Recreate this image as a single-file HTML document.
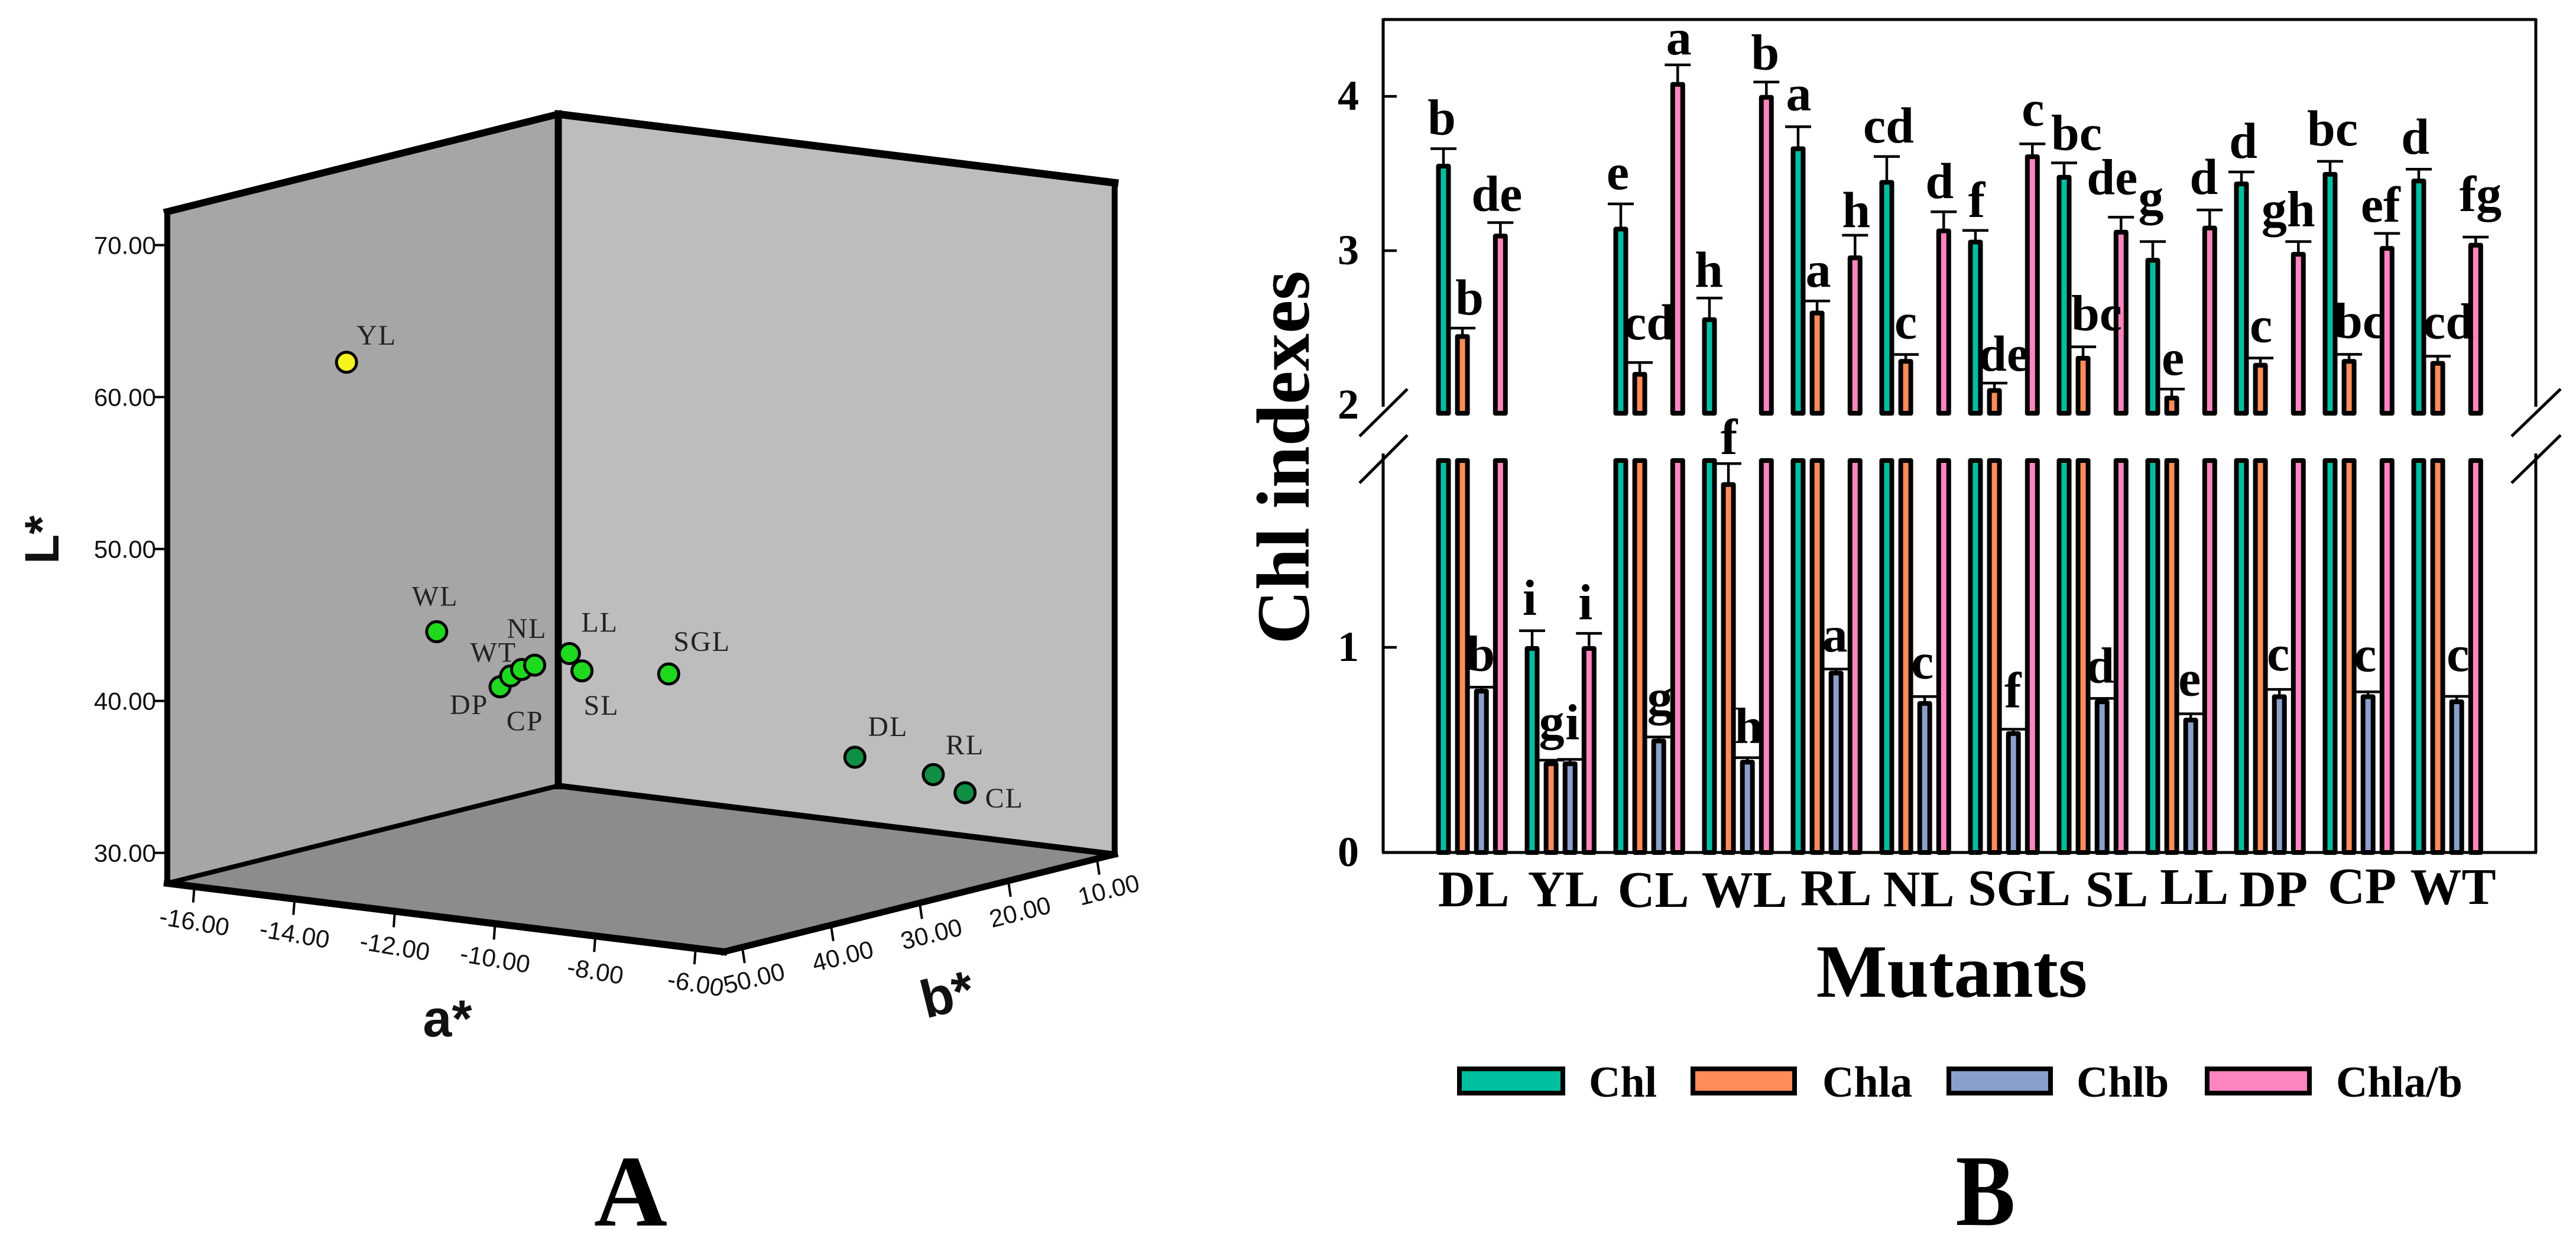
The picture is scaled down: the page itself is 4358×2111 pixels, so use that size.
<!DOCTYPE html>
<html lang="en">
<head>
<meta charset="utf-8">
<title>Colour space and chlorophyll indexes of leaf colour mutants</title>
<style>
html,body{margin:0;padding:0;background:#fff;}
svg{display:block;}
.serif{font-family:"Liberation Serif",serif;font-weight:bold;fill:#000;}
.sans{font-family:"Liberation Sans",sans-serif;fill:#111;}
</style>
</head>
<body>
<svg id="figure" xmlns="http://www.w3.org/2000/svg" width="4358" height="2111" viewBox="0 0 4358 2111">
  <rect width="4358" height="2111" fill="#fff"/>
  <g id="panelA"></g>
  <g id="panelB"></g>
  <text class="serif" x="1067" y="2073" font-size="172" text-anchor="middle">A</text>
  <text class="serif" font-size="172" text-anchor="middle" transform="translate(3359 2072) scale(0.88 1)">B</text>
  <text class="sans" font-size="82" font-weight="bold" text-anchor="middle" transform="translate(99 913) rotate(-90)">L*</text>
  <text class="sans" font-size="88" font-weight="bold" text-anchor="middle" x="757" y="1753">a*</text>
  <text class="sans" font-size="90" font-weight="bold" text-anchor="middle" transform="translate(1610 1712) rotate(-14)">b*</text>
  <text class="serif" font-size="127" text-anchor="middle" transform="translate(2214 774) rotate(-90)">Chl indexes</text>
  <text class="serif" font-size="127" text-anchor="middle" x="3302" y="1686">Mutants</text>
  <g>
    <g>
      <rect x="2469" y="1808" width="175" height="41" fill="#00BFA0" stroke="#000" stroke-width="8"/>
      <text class="serif" x="2688" y="1855" font-size="74">Chl</text>
    </g>
    <g>
      <rect x="2864" y="1808" width="172" height="41" fill="#FF8C5A" stroke="#000" stroke-width="8"/>
      <text class="serif" x="3083" y="1855" font-size="74">Chla</text>
    </g>
    <g>
      <rect x="3297" y="1808" width="172" height="41" fill="#8AA0CC" stroke="#000" stroke-width="8"/>
      <text class="serif" x="3513" y="1855" font-size="74">Chlb</text>
    </g>
    <g>
      <rect x="3734" y="1808" width="173" height="41" fill="#FF85C0" stroke="#000" stroke-width="8"/>
      <text class="serif" x="3952" y="1855" font-size="74">Chla/b</text>
    </g>
  </g>
</svg>
<script>
/* ---------- Panel A data ---------- */
const pointLabels = ["YL","WL","DP","CP","WT","NL","LL","SL","SGL","DL","RL","CL"];
const pointA = [-14.22,-14.72,-13.81,-13.60,-13.38,-13.12,-12.78,-12.53,-11.33,-8.50,-7.29,-7.01];
const pointB = [45,32,30,30,30,30,28,28,25,20,18,16];
const pointL = [62.2,42.37,38.82,39.62,40.14,40.53,41.14,40.1,39.95,34.89,33.95,32.58];
const pointGroup = ["yellow","light","light","light","light","light","light","light","light","dark","dark","dark"];
const lTicks = [30,40,50,60,70];
const aTicks = [-16,-14,-12,-10,-8,-6];
const bTicks = [50,40,30,20,10];

/* ---------- Panel B data ---------- */
const categories = ["DL","YL","CL","WL","RL","NL","SGL","SL","LL","DP","CP","WT"];
const chl = [3.563,1.006,3.155,2.568,3.676,3.458,3.071,3.491,2.953,3.448,3.510,3.467];
const chlErr = [0.098,0.075,0.148,0.125,0.127,0.152,0.060,0.078,0.106,0.062,0.069,0.061];
const chla = [2.459,0.444,2.214,1.805,2.611,2.298,2.109,2.318,2.060,2.273,2.298,2.285];
const chlaErr = [0.039,0.006,0.061,0.091,0.063,0.029,0.033,0.059,0.043,0.031,0.030,0.031];
const chlb = [0.798,0.444,0.555,0.452,0.886,0.738,0.591,0.746,0.657,0.771,0.771,0.746];
const chlbErr = [0.008,0.010,0.008,0.010,0.008,0.022,0.010,0.005,0.019,0.024,0.012,0.015];
const ratio = [3.110,1.006,4.093,4.009,2.969,3.143,3.624,3.135,3.162,2.992,3.030,3.051];
const ratioErr = [0.072,0.062,0.111,0.084,0.131,0.109,0.068,0.082,0.102,0.067,0.082,0.037];
const chlLetters = ["b","i","e","h","a","cd","f","bc","g","d","bc","d"];
const chlaLetters = ["b","g","cd","f","a","c","de","bc","e","c","bc","cd"];
const chlbLetters = ["b","i","g","h","a","c","f","d","e","c","c","c"];
const ratioLetters = ["de","i","a","b","h","d","c","de","d","gh","ef","fg"];
const yTickLabels = [0,1,2,3,4];

/* ---------- Layout (not data) ---------- */
const NS = "http://www.w3.org/2000/svg";
const panelA = document.getElementById("panelA");
const panelB = document.getElementById("panelB");
function mk(parent, tag, attrs, text) {
  const node = document.createElementNS(NS, tag);
  for (const k in attrs) node.setAttribute(k, attrs[k]);
  if (text !== undefined) node.textContent = text;
  parent.appendChild(node);
  return node;
}

/* Panel A projection: a*, b*, L* -> screen */
const aMin = -16.54, aMax = -5.44, bMin = 8, bMax = 52.1, lMin = 28, lMax = 72.2;
function projX(a, b) { return 283 + (a - aMin) * 84.8 + (bMax - b) * 15; }
function projY(a, b, l) { return 1494 + (a - aMin) * 10.45 - (bMax - b) * 3.74 - (l - lMin) * 25.7; }
function pt(a, b, l) { return projX(a, b).toFixed(1) + "," + projY(a, b, l).toFixed(1); }

const wallLeft = mk(panelA, "polygon", {points: [pt(aMin,bMax,lMin), pt(aMin,bMin,lMin), pt(aMin,bMin,lMax), pt(aMin,bMax,lMax)].join(" "), fill: "#a6a6a6"});


const wallRight = mk(panelA, "polygon", {points: [pt(aMin,bMin,lMin), pt(aMax,bMin,lMin), pt(aMax,bMin,lMax), pt(aMin,bMin,lMax)].join(" "), fill: "#bdbdbd"});


const floorPlane = mk(panelA, "polygon", {points: [pt(aMin,bMax,lMin), pt(aMin,bMin,lMin), pt(aMax,bMin,lMin), pt(aMax,bMax,lMin)].join(" "), fill: "#8c8c8c"});



const edges = [
  [aMin,bMax,lMax, aMin,bMin,lMax, 12],
  [aMin,bMin,lMax, aMax,bMin,lMax, 13],
  [aMin,bMax,lMin, aMin,bMax,lMax, 10],
  [aMin,bMin,lMin, aMin,bMin,lMax, 12],
  [aMax,bMin,lMin, aMax,bMin,lMax, 10],
  [aMin,bMax,lMin, aMax,bMax,lMin, 12],
  [aMax,bMax,lMin, aMax,bMin,lMin, 11],
  [aMin,bMax,lMin, aMin,bMin,lMin, 8],
  [aMin,bMin,lMin, aMax,bMin,lMin, 10]
];
edges.forEach(function (e) {
  const edge = mk(panelA, "line", {x1: projX(e[0],e[1]), y1: projY(e[0],e[1],e[2]), x2: projX(e[3],e[4]), y2: projY(e[3],e[4],e[5]), stroke: "#000", "stroke-width": e[6], "stroke-linecap": "square"});
  
  
});

lTicks.forEach(function (v) {
  const y = projY(aMin, bMax, v);
  const tick = mk(panelA, "line", {x1: 262, x2: 283, y1: y, y2: y, stroke: "#000", "stroke-width": 4});
  
  
  const label = mk(panelA, "text", {x: 264, y: y + 15, "font-size": 42, "text-anchor": "end", class: "sans"}, v.toFixed(2));
  
  
});
aTicks.forEach(function (v) {
  const x = projX(v, bMax), y = projY(v, bMax, lMin);
  const tick = mk(panelA, "line", {x1: x, x2: x - 2, y1: y, y2: y + 27, stroke: "#000", "stroke-width": 4});
  
  
  const label = mk(panelA, "text", {"font-size": 42, "text-anchor": "middle", class: "sans", transform: "translate(" + x + " " + (y + 60) + ") rotate(9.5) translate(0 14)"}, v.toFixed(2));
  
  
});
bTicks.forEach(function (v) {
  const x = projX(aMax, v), y = projY(aMax, v, lMin);
  const tick = mk(panelA, "line", {x1: x, x2: x + 4, y1: y, y2: y + 27, stroke: "#000", "stroke-width": 4});
  
  
  const label = mk(panelA, "text", {"font-size": 42, "text-anchor": "middle", class: "sans", transform: "translate(" + (x + 20) + " " + (y + 53) + ") rotate(-14) translate(0 14)"}, v.toFixed(2));
  
  
});

const groupFill = {yellow: "#f6f41e", light: "#1fd91f", dark: "#0e8f45"};
const pointLabelNudge = [[17,-30],[-42,-44],[-85,46],[-7,92],[-87,-13],[-47,-46],[20,-37],[3,74],[8,-39],[22,-36],[21,-34],[34,25]];
pointLabels.forEach(function (name, i) {
  const x = projX(pointA[i], pointB[i]), y = projY(pointA[i], pointB[i], pointL[i]);
  const marker = mk(panelA, "circle", {cx: x, cy: y, r: 17, fill: groupFill[pointGroup[i]], stroke: "#000", "stroke-width": 5});
  
  
  const label = mk(panelA, "text", {x: x + pointLabelNudge[i][0], y: y + pointLabelNudge[i][1], "font-size": 48, "letter-spacing": 2, "font-family": '"Liberation Serif",serif', fill: "#222"}, name);
  
  
});

/* Panel B scales */
function yUpper(v) { return 163 + (4 - v) * 261; }
function yLower(v) { return 1442 - v * 347; }
function yValue(v) { return v >= 2 ? yUpper(v) : yLower(v); }
function xBar(cat, series) { return 2442 + cat * 150 + series * 32.1; }
const UPPER_BASE = 703, LOWER_TOP = 775, BAR_W = 25, BAR_STROKE = 8;

const frameLines = [
  [2340,33,4290,33], [2340,31,2340,688], [2340,767,2340,1442],
  [4290,31,4290,688], [4290,767,4290,1442], [2338,1442,4292,1442]
];
frameLines.forEach(function (f) {
  const line = mk(panelB, "line", {x1: f[0], y1: f[1], x2: f[2], y2: f[3], stroke: "#000", "stroke-width": 5});
  
  
});
[[2300,738,2381,658],[2300,817,2381,736],[4249,738,4332,658],[4249,817,4332,736]].forEach(function (s) {
  const slash = mk(panelB, "line", {x1: s[0], y1: s[1], x2: s[2], y2: s[3], stroke: "#000", "stroke-width": 5});
  
  
});
yTickLabels.forEach(function (v) {
  const y = v >= 2 ? yUpper(v) : yLower(v);
  if (v !== 0 && v !== 2) {
    const tick = mk(panelB, "line", {x1: 2340, x2: 2363, y1: y, y2: y, stroke: "#000", "stroke-width": 4.5});
    
    
  }
  const label = mk(panelB, "text", {x: 2281, y: y + 23, "font-size": 72, "text-anchor": "middle", class: "serif"}, String(v));
  
  
});

const categoryCenterNudge = [3,5,7,11,16,6,26,41,22,6,6,10];
const categoryBaseNudge = [0,0,1,1,-2,0,-2,0,-4,0,-5,-4];
categories.forEach(function (name, i) {
  const label = mk(panelB, "text", {x: xBar(i, 1.5) + categoryCenterNudge[i], y: 1533 + categoryBaseNudge[i], "font-size": 87, "text-anchor": "middle", class: "serif"}, name);
  
  
});

const seriesDefs = [
  {name: "chl", vals: chl, errs: chlErr, letters: chlLetters, fill: "#00BFA0",
   dx: [-3,-4,-5,-1,1,3,2,21,-3,3,4,-6], gap: [24,27,25,19,28,24,23,22,46,24,27,26]},
  {name: "chla", vals: chla, errs: chlaErr, letters: chlaLetters, fill: "#FF8C5A",
   dx: [12,1,16,1,2,0,16,23,2,1,18,18], gap: [23,36,39,16,24,27,21,28,24,27,28,30]},
  {name: "chlb", vals: chlb, errs: chlbErr, letters: chlbLetters, fill: "#8AA0CC",
   dx: [-1,4,2,2,-2,-4,-1,-3,-2,-2,-5,2], gap: [28,34,38,25,30,31,37,27,31,32,35,43]},
  {name: "chla-b", vals: ratio, errs: ratioErr, letters: ratioLetters, fill: "#FF85C0",
   dx: [-6,-6,2,-2,2,-7,1,-15,-10,-17,-11,8], gap: [20,24,18,21,14,23,31,39,27,26,20,44]}
];

function barRect(cx, top, bottom, fill) {
  const half = (BAR_W - BAR_STROKE) / 2, inset = BAR_STROKE / 2;
  return mk(panelB, "rect", {x: cx - half, y: top + inset, width: half * 2, height: Math.max(0, bottom - top - BAR_STROKE), fill: fill, stroke: "#000", "stroke-width": BAR_STROKE, "stroke-linejoin": "round"});
}

seriesDefs.forEach(function (s, j) {
  s.vals.forEach(function (v, i) {
    const cx = xBar(i, j);
    const lowerTop = v >= 2 ? LOWER_TOP : yLower(v);
    const lowerBar = barRect(cx, lowerTop, 1442 + BAR_STROKE / 2, s.fill);
    
    
    if (v >= 2) {
      const upperBar = barRect(cx, yUpper(v), UPPER_BASE, s.fill);
      
      
    }
  });
});
seriesDefs.forEach(function (s, j) {
  s.vals.forEach(function (v, i) {
    const cx = xBar(i, j);
    const yBar = yValue(v), yCap = yValue(v + s.errs[i]);
    const stem = mk(panelB, "line", {x1: cx, x2: cx, y1: yBar + 2, y2: yCap, stroke: "#000", "stroke-width": 4.5});
    
    
    const cap = mk(panelB, "line", {x1: cx - 22, x2: cx + 22, y1: yCap, y2: yCap, stroke: "#000", "stroke-width": 4.5});
    
    
    const letter = mk(panelB, "text", {x: cx + s.dx[i], y: yCap - s.gap[i], "font-size": 86, "text-anchor": "middle", class: "serif"}, s.letters[i]);
    
    
  });
});
</script>
</body>
</html>
